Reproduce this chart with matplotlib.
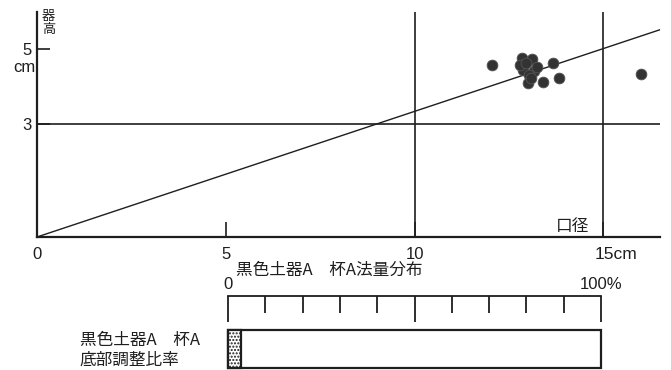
import numpy as np
import matplotlib
matplotlib.use("Agg")
from matplotlib import pyplot as plt

plt.rcParams['font.family'] = ['Liberation Sans', 'Noto Sans CJK JP', 'DejaVu Sans']
plt.rcParams['hatch.linewidth'] = 1.0

# 口径 (cm) / 器高 (cm) of each vessel
rim_diam = [12.04, 12.84, 13.10, 13.66, 12.86, 13.16, 13.02, 13.00,
            13.40, 13.82, 16.00, 12.78, 13.24, 13.08, 12.95]
height = [4.56, 4.76, 4.72, 4.63, 4.43, 4.40, 4.30, 4.08,
          4.11, 4.22, 4.32, 4.56, 4.50, 4.22, 4.62]

x_ticks = [0, 5, 10, 15]
x_labels = ['0', '5', '10', '']
y_ticks = [3, 5]
ref_x = [10, 15]          # full-height guide lines
ref_y = 3                 # horizontal guide line
ratio_slope = 1 / 3       # 器高 / 口径 guide line

# 底部調整比率 (%)
ratio_pct = 3.5
pct_ticks = [0, 50, 100]
pct_minor = [10, 20, 30, 40, 60, 70, 80, 90]

W, H = 671, 370
fig = plt.figure(figsize=(W / 100, H / 100), dpi=100)
ink = '#1e1e1e'
cjk = ['Noto Sans CJK JP']

# ---- scatter: 法量分布 ----
ax = fig.add_axes([37 / W, (H - 237) / H, (660 - 37) / W, (237 - 12) / H])
ax.set_xlim(0, 16.5)
ax.set_ylim(0, 5.97)
for s in ['top', 'right']:
    ax.spines[s].set_visible(False)
for s in ['left', 'bottom']:
    ax.spines[s].set_linewidth(1.6)
    ax.spines[s].set_color(ink)

for xv in ref_x:
    ax.axvline(xv, color=ink, lw=1.2)
ax.axhline(ref_y, color=ink, lw=1.2)
xx = np.array([0, 16.5])
ax.plot(xx, xx * ratio_slope, color=ink, lw=1.0)

ax.scatter(rim_diam, height, s=60, color='#333333', edgecolors='#555555',
           linewidths=0.6, zorder=3, clip_on=False)

ax.set_xticks(x_ticks)
ax.set_xticklabels(x_labels)
ax.set_yticks(y_ticks)
ax.tick_params(axis='both', direction='in', color=ink, width=1.2,
               labelsize=12, labelcolor=ink)
ax.tick_params(axis='x', length=11, pad=7)
ax.tick_params(axis='y', length=9, pad=4)
ax.annotate('15cm', xy=(15, 0), xytext=(-6, -7), textcoords='offset points',
            ha='left', va='top', fontsize=12.5, color=ink, annotation_clip=False)
ax.text(-0.05, 4.5, 'cm', ha='right', va='center', fontsize=12, color=ink)
ax.text(0.3, 5.68, '器\n高', ha='center', va='center', fontsize=9.5,
        linespacing=0.95, color=ink, family=cjk)
ax.text(14.17, 0.27, '口径', ha='center', va='center', fontsize=12,
        color=ink, family=cjk)
ax.text(7.75, -0.88, '黒色土器A　杯A法量分布', ha='center', va='center',
        fontsize=12, color=ink, family=cjk, clip_on=False)

# ---- bar: 底部調整比率 ----
ax2 = fig.add_axes([228 / W, 0, (601 - 228) / W, 74 / H])
ax2.set_xlim(0, 100)
ax2.set_ylim(0, 1)
for s in ['left', 'right', 'bottom']:
    ax2.spines[s].set_visible(False)
ax2.spines['top'].set_linewidth(1.3)
ax2.spines['top'].set_color(ink)
ax2.xaxis.set_ticks_position('top')
ax2.set_xticks(pct_ticks)
ax2.set_xticklabels(['0', '', '100%'])
ax2.set_xticks(pct_minor, minor=True)
ax2.set_yticks([])
ax2.tick_params(axis='x', which='major', direction='in', length=19,
                width=1.3, color=ink, labelsize=12, pad=3, labelcolor=ink)
ax2.tick_params(axis='x', which='minor', direction='in', length=12,
                width=1.3, color=ink)

bar_y, bar_h = 0.03, 0.51
ax2.barh(bar_y, 100, height=bar_h, left=0, align='edge', color='white',
         edgecolor=ink, lw=1.6, clip_on=False)
ax2.barh(bar_y, ratio_pct, height=bar_h, left=0, align='edge', color='white',
         edgecolor=ink, hatch='.....', lw=1.6, clip_on=False)
ax2.text(-39.7, 0.40, '黒色土器A　杯A', ha='left', va='center', fontsize=12,
         color=ink, family=cjk, clip_on=False)
ax2.text(-39.7, 0.13, '底部調整比率', ha='left', va='center', fontsize=12,
         color=ink, family=cjk, clip_on=False)

fig.savefig('out.png', dpi=100)
